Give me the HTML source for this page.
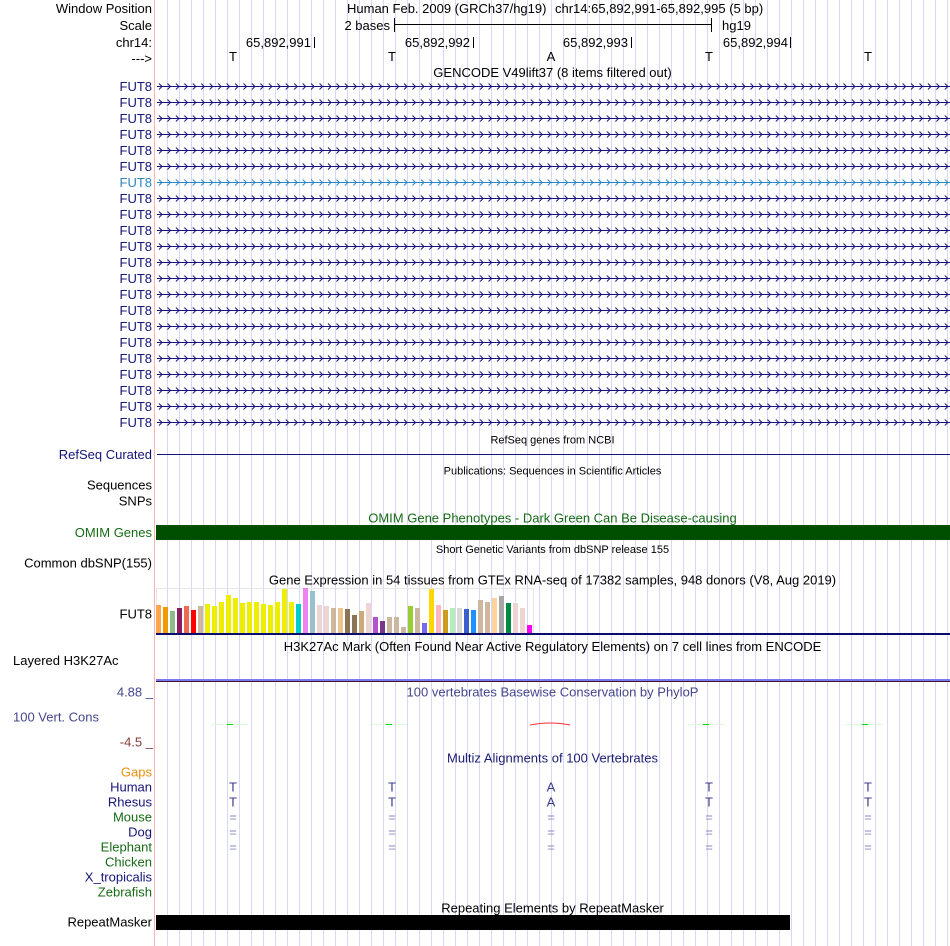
<!DOCTYPE html>
<html><head><meta charset="utf-8"><style>
html,body{margin:0;padding:0;background:#fff;}
svg{display:block;}
text{font-family:"Liberation Sans",Arial,sans-serif;font-size:13px;}
.s{font-size:11px;}
.r{text-anchor:end;}
.m{text-anchor:middle;}
.nv{fill:#14147a;}
.gr{fill:#166a16;}
</style></head><body>
<svg width="950" height="946" viewBox="0 0 950 946" xmlns="http://www.w3.org/2000/svg">
<defs>
<pattern id="chv" patternUnits="userSpaceOnUse" x="157" y="78" width="8.45" height="16"><path d="M2 5.5 L5 8.5 L2 11.5" fill="none" stroke="#14147a" stroke-width="1"/></pattern>
<pattern id="chvb" patternUnits="userSpaceOnUse" x="157" y="78" width="8.45" height="16"><path d="M2 5.5 L5 8.5 L2 11.5" fill="none" stroke="#2c86c4" stroke-width="1"/></pattern>
<pattern id="grid" patternUnits="userSpaceOnUse" x="167" y="0" width="12" height="946"><rect x="0" y="0" width="1" height="946" fill="#d8d8f6"/></pattern>
</defs>
<rect x="0" y="0" width="950" height="946" fill="#fff"/>
<rect x="167" y="0" width="783" height="946" fill="url(#grid)"/>
<rect x="154" y="0" width="1" height="946" fill="#ffb0b0"/>

<!-- header -->
<text x="152" y="13" class="r">Window Position</text>
<text x="152" y="30" class="r">Scale</text>
<text x="152" y="47" class="r">chr14:</text>
<text x="152" y="63" class="r">---&gt;</text>
<text x="347" y="13">Human Feb. 2009 (GRCh37/hg19)</text>
<text x="555" y="13">chr14:65,892,991-65,892,995 (5 bp)</text>
<text x="390" y="30" class="r">2 bases</text>
<rect x="394" y="24" width="318" height="1" fill="#000"/>
<rect x="394" y="18" width="1" height="14" fill="#000"/>
<rect x="711" y="18" width="1" height="14" fill="#000"/>
<text x="722" y="30">hg19</text>
<text x="311" y="47" class="r">65,892,991</text>
<text x="470" y="47" class="r">65,892,992</text>
<text x="628" y="47" class="r">65,892,993</text>
<text x="788" y="47" class="r">65,892,994</text>
<rect x="314" y="37" width="1" height="11" fill="#000"/>
<rect x="473" y="37" width="1" height="11" fill="#000"/>
<rect x="631" y="37" width="1" height="11" fill="#000"/>
<rect x="790" y="37" width="1" height="11" fill="#000"/>
<text x="233" y="61" class="m">T</text>
<text x="392" y="61" class="m">T</text>
<text x="551" y="61" class="m">A</text>
<text x="709" y="61" class="m">T</text>
<text x="868" y="61" class="m">T</text>

<!-- GENCODE -->
<text x="552.5" y="77" class="m">GENCODE V49lift37 (8 items filtered out)</text>
<g class="nv">
<text x="152" y="91" class="r">FUT8</text>
<text x="152" y="107" class="r">FUT8</text>
<text x="152" y="123" class="r">FUT8</text>
<text x="152" y="139" class="r">FUT8</text>
<text x="152" y="155" class="r">FUT8</text>
<text x="152" y="171" class="r">FUT8</text>
<text x="152" y="187" class="r" style="fill:#2c86c4">FUT8</text>
<text x="152" y="203" class="r">FUT8</text>
<text x="152" y="219" class="r">FUT8</text>
<text x="152" y="235" class="r">FUT8</text>
<text x="152" y="251" class="r">FUT8</text>
<text x="152" y="267" class="r">FUT8</text>
<text x="152" y="283" class="r">FUT8</text>
<text x="152" y="299" class="r">FUT8</text>
<text x="152" y="315" class="r">FUT8</text>
<text x="152" y="331" class="r">FUT8</text>
<text x="152" y="347" class="r">FUT8</text>
<text x="152" y="363" class="r">FUT8</text>
<text x="152" y="379" class="r">FUT8</text>
<text x="152" y="395" class="r">FUT8</text>
<text x="152" y="411" class="r">FUT8</text>
<text x="152" y="427" class="r">FUT8</text>
</g>
<g fill="#14147a">
<rect x="157" y="86" width="793" height="1"/>
<rect x="157" y="102" width="793" height="1"/>
<rect x="157" y="118" width="793" height="1"/>
<rect x="157" y="134" width="793" height="1"/>
<rect x="157" y="150" width="793" height="1"/>
<rect x="157" y="166" width="793" height="1"/>
<rect x="157" y="182" width="793" height="1" fill="#2c86c4"/>
<rect x="157" y="198" width="793" height="1"/>
<rect x="157" y="214" width="793" height="1"/>
<rect x="157" y="230" width="793" height="1"/>
<rect x="157" y="246" width="793" height="1"/>
<rect x="157" y="262" width="793" height="1"/>
<rect x="157" y="278" width="793" height="1"/>
<rect x="157" y="294" width="793" height="1"/>
<rect x="157" y="310" width="793" height="1"/>
<rect x="157" y="326" width="793" height="1"/>
<rect x="157" y="342" width="793" height="1"/>
<rect x="157" y="358" width="793" height="1"/>
<rect x="157" y="374" width="793" height="1"/>
<rect x="157" y="390" width="793" height="1"/>
<rect x="157" y="406" width="793" height="1"/>
<rect x="157" y="422" width="793" height="1"/>
</g>
<rect x="157" y="78" width="793" height="96" fill="url(#chv)"/>
<rect x="157" y="174" width="793" height="16" fill="url(#chvb)"/>
<rect x="157" y="190" width="793" height="240" fill="url(#chv)"/>

<!-- RefSeq -->
<text x="552.5" y="443.5" class="m s">RefSeq genes from NCBI</text>
<text x="152" y="459" class="r nv">RefSeq Curated</text>
<rect x="157" y="454" width="793" height="1" fill="#14147a"/>

<!-- Publications -->
<text x="552.5" y="474.5" class="m s">Publications: Sequences in Scientific Articles</text>
<text x="152" y="489.5" class="r">Sequences</text>
<text x="152" y="505.5" class="r">SNPs</text>

<!-- OMIM -->
<text x="552.5" y="522.5" class="m gr">OMIM Gene Phenotypes - Dark Green Can Be Disease-causing</text>
<text x="152" y="537" class="r gr">OMIM Genes</text>
<rect x="156" y="525" width="794" height="15" fill="#004f00"/>

<!-- dbSNP -->
<text x="552.5" y="553" class="m s">Short Genetic Variants from dbSNP release 155</text>
<text x="152" y="567.5" class="r">Common dbSNP(155)</text>

<!-- GTEx -->
<text x="552.5" y="584.5" class="m">Gene Expression in 54 tissues from GTEx RNA-seq of 17382 samples, 948 donors (V8, Aug 2019)</text>
<text x="152" y="618.5" class="r">FUT8</text>
<rect x="156.5" y="588.5" width="377" height="45" fill="none" stroke="#e6e6e6" stroke-width="1"/>
<g>
<rect x="156" y="605" width="5" height="28" fill="#FFA54F"/>
<rect x="163" y="607" width="5" height="26" fill="#EE9A00"/>
<rect x="170" y="611" width="5" height="22" fill="#8FBC8F"/>
<rect x="177" y="608" width="5" height="25" fill="#8B1C62"/>
<rect x="184" y="606" width="5" height="27" fill="#EE6A50"/>
<rect x="191" y="610" width="5" height="23" fill="#FF0000"/>
<rect x="198" y="606" width="5" height="27" fill="#CDB79E"/>
<rect x="205" y="604" width="5" height="29" fill="#EEEE00"/>
<rect x="212" y="606" width="5" height="27" fill="#EEEE00"/>
<rect x="219" y="602" width="5" height="31" fill="#EEEE00"/>
<rect x="226" y="595" width="5" height="38" fill="#EEEE00"/>
<rect x="233" y="598" width="5" height="35" fill="#EEEE00"/>
<rect x="240" y="603" width="5" height="30" fill="#EEEE00"/>
<rect x="247" y="602" width="5" height="31" fill="#EEEE00"/>
<rect x="254" y="602" width="5" height="31" fill="#EEEE00"/>
<rect x="261" y="604" width="5" height="29" fill="#EEEE00"/>
<rect x="268" y="605" width="5" height="28" fill="#EEEE00"/>
<rect x="275" y="602" width="5" height="31" fill="#EEEE00"/>
<rect x="282" y="589" width="5" height="44" fill="#EEEE00"/>
<rect x="289" y="602" width="5" height="31" fill="#EEEE00"/>
<rect x="296" y="604" width="5" height="29" fill="#00CDCD"/>
<rect x="303" y="588" width="5" height="45" fill="#EE82EE"/>
<rect x="310" y="591" width="5" height="42" fill="#9AC0CD"/>
<rect x="317" y="605" width="5" height="28" fill="#EED5D2"/>
<rect x="324" y="606" width="5" height="27" fill="#EED5D2"/>
<rect x="331" y="608" width="5" height="25" fill="#CDB79E"/>
<rect x="338" y="608" width="5" height="25" fill="#EEC591"/>
<rect x="345" y="609" width="5" height="24" fill="#8B7355"/>
<rect x="352" y="615" width="5" height="18" fill="#8B7355"/>
<rect x="359" y="611" width="5" height="22" fill="#CDAA7D"/>
<rect x="366" y="603" width="5" height="30" fill="#EED5D2"/>
<rect x="373" y="617" width="5" height="16" fill="#B452CD"/>
<rect x="380" y="621" width="5" height="12" fill="#7A378B"/>
<rect x="387" y="617" width="5" height="16" fill="#CDB79E"/>
<rect x="394" y="617" width="5" height="16" fill="#CDB79E"/>
<rect x="401" y="627" width="5" height="6" fill="#CDB79E"/>
<rect x="408" y="606" width="5" height="27" fill="#9ACD32"/>
<rect x="415" y="608" width="5" height="25" fill="#CDB79E"/>
<rect x="422" y="623" width="5" height="10" fill="#7A67EE"/>
<rect x="429" y="589" width="5" height="44" fill="#FFD700"/>
<rect x="436" y="605" width="5" height="28" fill="#FFB6C1"/>
<rect x="443" y="610" width="5" height="23" fill="#CD9B1D"/>
<rect x="450" y="608" width="5" height="25" fill="#B4EEB4"/>
<rect x="457" y="608" width="5" height="25" fill="#D9D9D9"/>
<rect x="464" y="609" width="5" height="24" fill="#3A5FCD"/>
<rect x="471" y="610" width="5" height="23" fill="#1E90FF"/>
<rect x="478" y="600" width="5" height="33" fill="#CDB79E"/>
<rect x="485" y="602" width="5" height="31" fill="#CDB79E"/>
<rect x="492" y="598" width="5" height="35" fill="#FFD39B"/>
<rect x="499" y="596" width="5" height="37" fill="#A6A6A6"/>
<rect x="506" y="603" width="5" height="30" fill="#008B45"/>
<rect x="513" y="603" width="5" height="30" fill="#EED5D2"/>
<rect x="520" y="608" width="5" height="25" fill="#EED5D2"/>
<rect x="527" y="625" width="5" height="8" fill="#FF00FF"/>
</g>
<rect x="156" y="633" width="794" height="2" fill="#0c0c6e"/>

<!-- H3K27Ac -->
<text x="552.5" y="651" class="m">H3K27Ac Mark (Often Found Near Active Regulatory Elements) on 7 cell lines from ENCODE</text>
<text x="13" y="665">Layered H3K27Ac</text>
<rect x="156" y="679" width="794" height="2" fill="#7b7bee"/>
<rect x="156" y="681" width="794" height="1" fill="#3a1430"/>

<!-- PhyloP -->
<text x="552.5" y="696.5" class="m" style="fill:#46468c">100 vertebrates Basewise Conservation by PhyloP</text>
<text x="153" y="696.5" class="r" style="fill:#46468c">4.88 _</text>
<text x="13" y="721.5" style="fill:#46468c">100 Vert. Cons</text>
<text x="153" y="746.5" class="r" style="fill:#8b3a3a">-4.5 _</text>
<g>
<rect x="211" y="724" width="37" height="1" fill="#dcf8dc"/>
<rect x="227" y="724" width="6" height="1" fill="#00dd00"/>
<rect x="370" y="724" width="37" height="1" fill="#dcf8dc"/>
<rect x="386" y="724" width="6" height="1" fill="#00dd00"/>
<rect x="687" y="724" width="37" height="1" fill="#dcf8dc"/>
<rect x="703" y="724" width="6" height="1" fill="#00dd00"/>
<rect x="846" y="724" width="37" height="1" fill="#dcf8dc"/>
<rect x="862" y="724" width="6" height="1" fill="#00dd00"/>
<path d="M530 725 Q550 721 570 725" fill="none" stroke="#ff3030" stroke-width="1"/>
</g>

<!-- Multiz -->
<text x="552.5" y="762.5" class="m" style="fill:#1c1c72">Multiz Alignments of 100 Vertebrates</text>
<text x="152" y="776.5" class="r" style="fill:#ee9010">Gaps</text>
<text x="152" y="791.5" class="r nv">Human</text>
<text x="152" y="806.5" class="r nv">Rhesus</text>
<text x="152" y="821.5" class="r gr">Mouse</text>
<text x="152" y="836.5" class="r nv">Dog</text>
<text x="152" y="851.5" class="r gr">Elephant</text>
<text x="152" y="866.5" class="r gr">Chicken</text>
<text x="152" y="881.5" class="r nv">X_tropicalis</text>
<text x="152" y="896.5" class="r gr">Zebrafish</text>
<g style="fill:#3c3c8c">
<text x="233" y="791.5" class="m">T</text><text x="392" y="791.5" class="m">T</text><text x="551" y="791.5" class="m">A</text><text x="709" y="791.5" class="m">T</text><text x="868" y="791.5" class="m">T</text>
<text x="233" y="806.5" class="m">T</text><text x="392" y="806.5" class="m">T</text><text x="551" y="806.5" class="m">A</text><text x="709" y="806.5" class="m">T</text><text x="868" y="806.5" class="m">T</text>
</g>
<g style="fill:#8a8ac6">
<text x="233" y="821.5" class="m">=</text><text x="392" y="821.5" class="m">=</text><text x="551" y="821.5" class="m">=</text><text x="709" y="821.5" class="m">=</text><text x="868" y="821.5" class="m">=</text>
<text x="233" y="836.5" class="m">=</text><text x="392" y="836.5" class="m">=</text><text x="551" y="836.5" class="m">=</text><text x="709" y="836.5" class="m">=</text><text x="868" y="836.5" class="m">=</text>
<text x="233" y="851.5" class="m">=</text><text x="392" y="851.5" class="m">=</text><text x="551" y="851.5" class="m">=</text><text x="709" y="851.5" class="m">=</text><text x="868" y="851.5" class="m">=</text>
</g>

<!-- RepeatMasker -->
<text x="552.5" y="912.5" class="m">Repeating Elements by RepeatMasker</text>
<text x="152" y="926.5" class="r">RepeatMasker</text>
<rect x="156" y="915" width="634" height="15" fill="#000"/>
</svg>
</body></html>
